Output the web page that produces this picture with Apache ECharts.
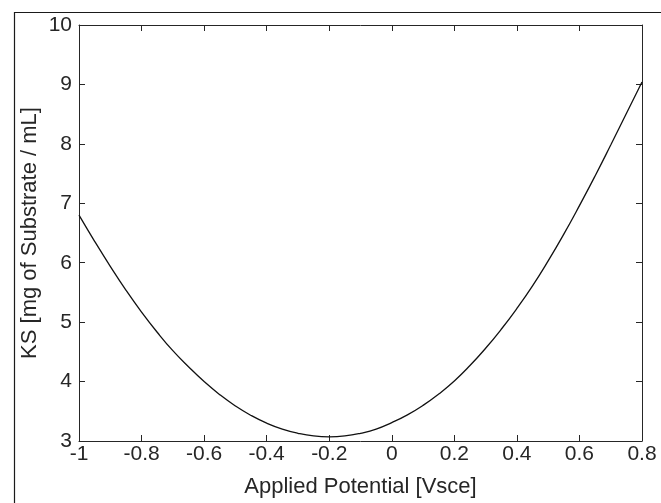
<!DOCTYPE html>
<html>
<head>
<meta charset="utf-8">
<style>
  html, body { margin: 0; padding: 0; background: #fff; }
  #chart { width: 661px; height: 503px; }
</style>
<script src="https://cdn.jsdelivr.net/npm/echarts@6/dist/echarts.min.js"></script>
</head>
<body>
<div id="chart"></div>
<script>
// applied potential [Vsce], every 0.05 V
const potential = [
  -1, -0.95, -0.9, -0.85, -0.8, -0.75, -0.7, -0.65, -0.6, -0.55,
  -0.5, -0.45, -0.4, -0.35, -0.3, -0.25, -0.2, -0.15, -0.1, -0.05,
  0, 0.05, 0.1, 0.15, 0.2, 0.25, 0.3, 0.35, 0.4, 0.45,
  0.5, 0.55, 0.6, 0.65, 0.7, 0.75, 0.8
]
// KS [mg of substrate / mL]
const ks = [
  6.80, 6.36, 5.94, 5.54, 5.17, 4.83, 4.52, 4.25, 4.00, 3.78,
  3.59, 3.43, 3.30, 3.20, 3.13, 3.085, 3.07, 3.085, 3.13, 3.20,
  3.31, 3.44, 3.60, 3.79, 4.01, 4.27, 4.56, 4.88, 5.23, 5.61,
  6.03, 6.48, 6.96, 7.46, 7.98, 8.51, 9.04
]
const xTicks = { min: -1, max: 0.8, step: 0.2 }
const yTicks = { min: 3, max: 10, step: 1 }

const ink = '#262626'
const font = '"Liberation Sans", Arial, Helvetica, sans-serif'

const chart = echarts.init(document.getElementById('chart'))

function xAxisDef(pos, labels) {
  return {
    type: 'value', position: pos,
    min: xTicks.min, max: xTicks.max, interval: xTicks.step,
    axisLine: { show: true, onZero: false, lineStyle: { color: ink, width: 1 } },
    axisTick: { show: true, inside: true, length: 6, lineStyle: { color: ink } },
    splitLine: { show: false },
    axisLabel: {
      show: labels, color: ink, fontFamily: font, fontSize: 21, margin: 3,
      formatter: v => String(Math.round(v * 10) / 10)
    }
  }
}

function yAxisDef(pos, labels) {
  return {
    type: 'value', position: pos,
    min: yTicks.min, max: yTicks.max, interval: yTicks.step,
    axisLine: { show: true, onZero: false, lineStyle: { color: ink, width: 1 } },
    axisTick: { show: true, inside: true, length: 6, lineStyle: { color: ink } },
    splitLine: { show: false },
    axisLabel: { show: labels, color: ink, fontFamily: font, fontSize: 21, margin: 7 }
  }
}

const xBottom = Object.assign(xAxisDef('bottom', true), {
  name: 'Applied Potential [Vsce]', nameLocation: 'middle', nameGap: 35,
  nameMoveOverlap: false,
  nameTextStyle: { color: ink, fontFamily: font, fontSize: 22 }
})
const yLeft = Object.assign(yAxisDef('left', true), {
  name: 'KS [mg of Substrate / mL]', nameLocation: 'middle', nameGap: 38,
  nameMoveOverlap: false,
  nameTextStyle: { color: ink, fontFamily: font, fontSize: 22 }
})

chart.setOption({
  animation: false,
  backgroundColor: '#fff',
  grid: { left: 79, top: 25, right: 19, bottom: 61 },
  graphic: [{
    type: 'rect', left: 12, top: 10,
    shape: { width: 700, height: 520 },
    style: { fill: 'none', stroke: '#1a1a1a', lineWidth: 1.2 },
    silent: true
  }],
  xAxis: [xBottom, xAxisDef('top', false)],
  yAxis: [yLeft, yAxisDef('right', false)],
  series: [{
    type: 'line',
    data: potential.map((p, i) => [p, ks[i]]),
    smooth: true,
    showSymbol: false,
    lineStyle: { color: '#111', width: 1.3 }
  }]
})
</script>
</body>
</html>
